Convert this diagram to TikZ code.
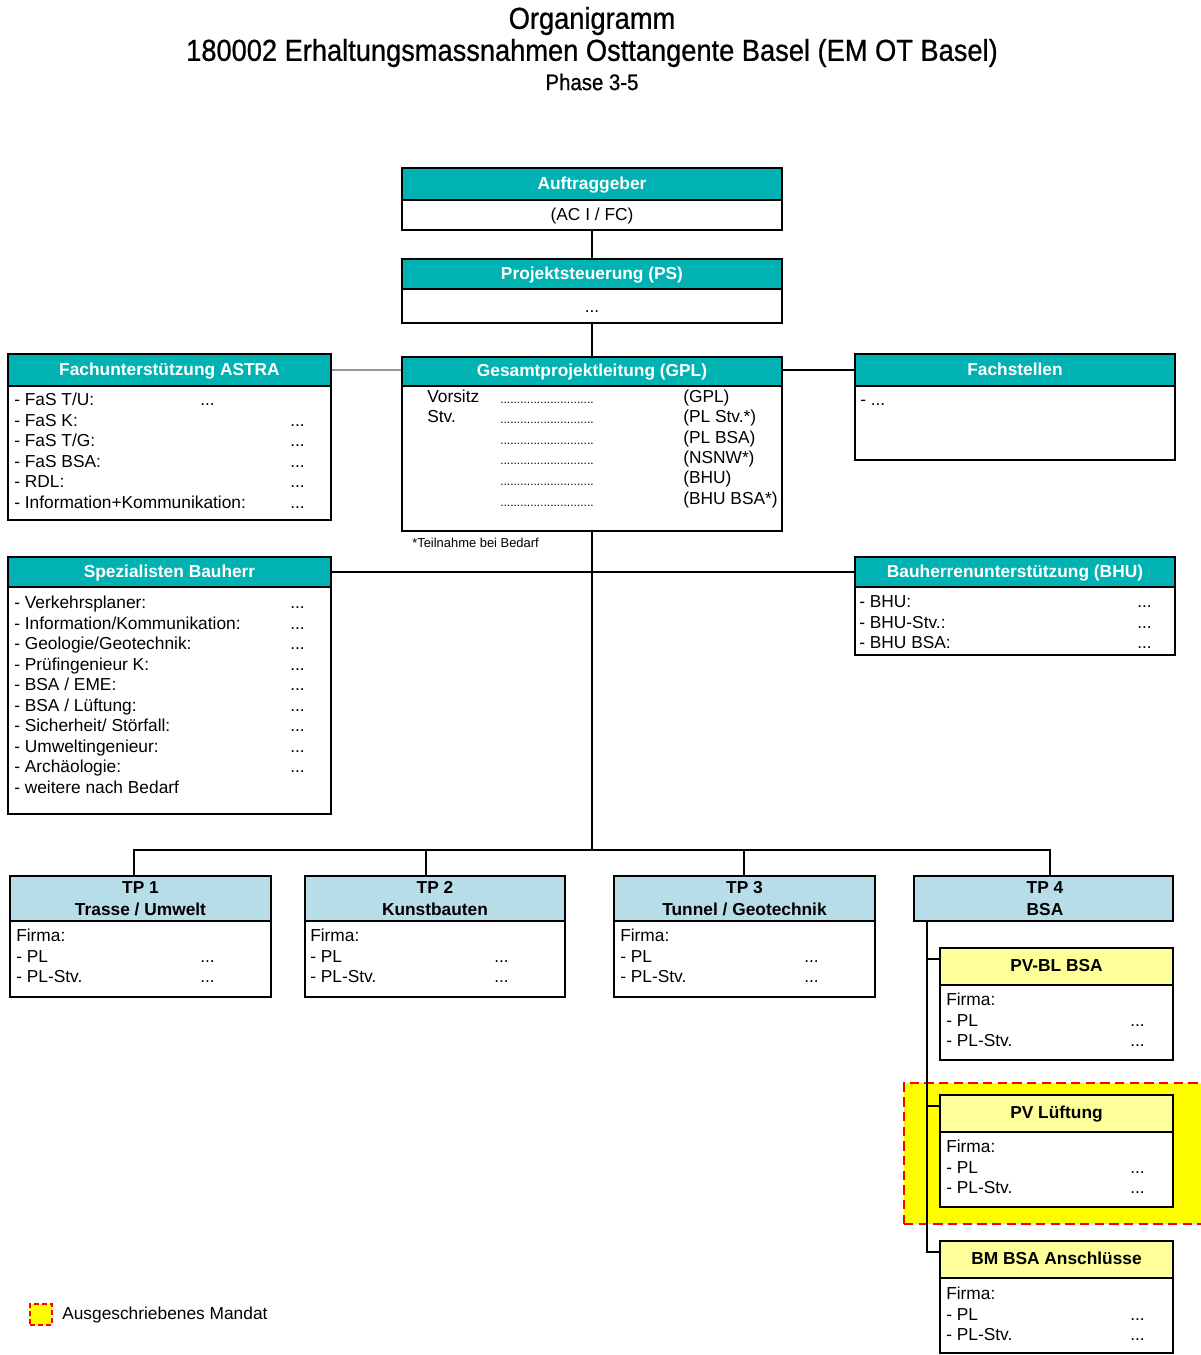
\documentclass[tikz,border=0pt]{standalone}
\usepackage{fontspec}
\setmainfont{Liberation Sans}
\newfontfamily\titlefont{Liberation Sans}[FakeStretch=0.9,FakeBold=0.8]
\usetikzlibrary{fit,calc}
\definecolor{hdrteal}{RGB}{0,178,178}
\definecolor{tpblue}{RGB}{183,222,232}
\definecolor{subyellow}{RGB}{255,255,153}
\definecolor{hiyellow}{RGB}{255,255,0}
\definecolor{linegray}{RGB}{150,150,150}
\newcommand{\firmabody}[4]{%
  \node[txt] (#1f1) at (#2,#4) {Firma:};
  \node[txt] (#1f2) at (#2,{#4+20.5}) {- PL};
  \node[txt] (#1f3) at (#2,{#4+41}) {- PL-Stv.};
  \node[txt] (#1d2) at (#3,{#4+20.5}) {...};
  \node[txt] (#1d3) at (#3,{#4+41}) {...};
}
\begin{document}
\begin{tikzpicture}[x=0.75pt,y=-0.75pt,
  box/.style={draw=black, line width=1.3pt, inner sep=0pt},
  hteal/.style={box, fill=hdrteal},
  hblue/.style={box, fill=tpblue},
  hyel/.style={box, fill=subyellow},
  bodybox/.style={box, fill=white},
  lbl/.style={inner sep=0pt, anchor=mid, yshift=-1.3pt, font=\fontsize{13}{15}\selectfont\bfseries},
  wlbl/.style={lbl, text=white},
  txt/.style={inner sep=0pt, anchor=mid west, font=\fontsize{13}{15}\selectfont},
  dotsrow/.style={inner sep=0pt, anchor=base west, font=\fontsize{9}{10}\selectfont},
  conn/.style={line width=1.4pt},
  hilite/.style={inner sep=0pt, fill=hiyellow, draw=red, line width=1.5pt, dash pattern=on 7pt off 4pt},
  titletxt/.style={inner sep=0pt}]
\useasboundingbox (0,0) rectangle (1201,1355);

% title
\node[titletxt, font=\titlefont\fontsize{22.7}{27}\selectfont] (t1) at (592,21) {Organigramm};
\node[titletxt, font=\titlefont\fontsize{22.7}{27}\selectfont] (t2) at (592,53) {180002 Erhaltungsmassnahmen Osttangente Basel (EM OT Basel)};
\node[titletxt, font=\titlefont\fontsize{17}{20}\selectfont] (t3) at (592,82) {Phase 3-5};

% highlight (Ausgeschriebenes Mandat)
\node[hilite, fit={(904,1083)(1215,1224)}] (mandat) {};

% Auftraggeber
\node[hteal, fit={(402,168)(782,200)}] (auftrH) {};
\node[wlbl] (auftrHt) at (auftrH.center) {Auftraggeber};
\node[bodybox, fit={(402,200)(782,230)}] (auftrB) {};
\node[lbl, font=\fontsize{13}{15}\selectfont] (auftrBt) at (auftrB.center) {(AC I / FC)};

% Projektsteuerung
\node[hteal, fit={(402,259)(782,289)}] (psH) {};
\node[wlbl] (psHt) at (psH.center) {Projektsteuerung (PS)};
\node[bodybox, fit={(402,289)(782,323)}] (psB) {};
\node[inner sep=0pt, anchor=base, font=\fontsize{13}{15}\selectfont] (psdots) at (592,312) {...};

% GPL
\node[hteal, fit={(402,357)(782,386)}] (gplH) {};
\node[wlbl] (gplHt) at (gplH.center) {Gesamtprojektleitung (GPL)};
\node[bodybox, fit={(402,386)(782,531)}] (gplB) {};
\node[txt] (gv) at (427,399) {Vorsitz};
\node[txt] (gs) at (427,419) {Stv.};
\foreach \i/\y in {1/403,2/423,3/444,4/464,5/485,6/506}
  \node[dotsrow] (gd\i) at (500,\y) {............................};
\foreach \t/\y [count=\i] in {(GPL)/399,(PL Stv.*)/419,(PL BSA)/440,(NSNW*)/460,(BHU)/480,(BHU BSA*)/501}
  \node[txt] (gr\i) at (683,\y) {\t};
\node[inner sep=0pt, anchor=west, font=\fontsize{9.7}{11}\selectfont] (gnote) at (412,543) {*Teilnahme bei Bedarf};

% Fachunterstuetzung ASTRA
\node[hteal, fit={(8,354)(331,386)}] (fachuH) {};
\node[wlbl] (fachuHt) at (fachuH.center) {Fachunterstützung ASTRA};
\node[bodybox, fit={(8,386)(331,520)}] (fachuB) {};
\foreach \t [count=\i] in {- FaS T/U:,- FaS K:,- FaS T/G:,- FaS BSA:,- RDL:,- Information+Kommunikation:}
  \node[txt] (fa\i) at (14,{402+(\i-1)*20.5}) {\t};
\node[txt] (fad1) at (200,402) {...};
\foreach \i in {2,...,6}
  \node[txt] (fad\i) at (290,{402+(\i-1)*20.5}) {...};

% Fachstellen
\node[hteal, fit={(855,354)(1175,386)}] (fachsH) {};
\node[wlbl] (fachsHt) at (fachsH.center) {Fachstellen};
\node[bodybox, fit={(855,386)(1175,460)}] (fachsB) {};
\node[txt] (fs1) at (860,402) {- ...};

% Spezialisten Bauherr
\node[hteal, fit={(8,557)(331,587)}] (spezH) {};
\node[wlbl] (spezHt) at (spezH.center) {Spezialisten Bauherr};
\node[bodybox, fit={(8,587)(331,814)}] (spezB) {};
\foreach \t [count=\i] in {- Verkehrsplaner:,- Information/Kommunikation:,- Geologie/Geotechnik:,- Prüfingenieur K:,- BSA / EME:,- BSA / Lüftung:,- Sicherheit/ Störfall:,- Umweltingenieur:,- Archäologie:,- weitere nach Bedarf}
  \node[txt] (sp\i) at (14,{605+(\i-1)*20.5}) {\t};
\foreach \i in {1,...,9}
  \node[txt] (spd\i) at (290,{605+(\i-1)*20.5}) {...};

% BHU
\node[hteal, fit={(855,557)(1175,587)}] (bhuH) {};
\node[wlbl] (bhuHt) at (bhuH.center) {Bauherrenunterstützung (BHU)};
\node[bodybox, fit={(855,587)(1175,655)}] (bhuB) {};
\foreach \t [count=\i] in {- BHU:,- BHU-Stv.:,- BHU BSA:}
  \node[txt] (bh\i) at (859,{604+(\i-1)*20.5}) {\t};
\foreach \i in {1,2,3}
  \node[txt] (bhd\i) at (1137,{604+(\i-1)*20.5}) {...};

% TP boxes
\node[hblue, fit={(10,876)(271,921)}] (tp1H) {};
\node[lbl] (tp1a) at (140.5,888) {TP 1};
\node[lbl] (tp1b) at (140.5,910) {Trasse / Umwelt};
\node[bodybox, fit={(10,921)(271,997)}] (tp1B) {};
\firmabody{tpa}{16}{200}{938}
\node[hblue, fit={(305,876)(565,921)}] (tp2H) {};
\node[lbl] (tp2a) at (435,888) {TP 2};
\node[lbl] (tp2b) at (435,910) {Kunstbauten};
\node[bodybox, fit={(305,921)(565,997)}] (tp2B) {};
\firmabody{tpb}{310}{494}{938}
\node[hblue, fit={(614,876)(875,921)}] (tp3H) {};
\node[lbl] (tp3a) at (744.5,888) {TP 3};
\node[lbl] (tp3b) at (744.5,910) {Tunnel / Geotechnik};
\node[bodybox, fit={(614,921)(875,997)}] (tp3B) {};
\firmabody{tpc}{620}{804}{938}
\node[hblue, fit={(914,876)(1173,921)}] (tp4H) {};
\node[lbl] (tp4a) at (1045,888) {TP 4};
\node[lbl] (tp4b) at (1045,910) {BSA};

% TP4 sub boxes
\node[hyel, fit={(940,948)(1173,985)}] (pvblH) {};
\node[lbl] (pvblHt) at (pvblH.center) {PV-BL BSA};
\node[bodybox, fit={(940,985)(1173,1060)}] (pvblB) {};
\firmabody{pva}{946}{1130}{1002}
\node[hyel, fit={(940,1095)(1173,1132)}] (pvlH) {};
\node[lbl] (pvlHt) at (pvlH.center) {PV Lüftung};
\node[bodybox, fit={(940,1132)(1173,1207)}] (pvlB) {};
\firmabody{pvb}{946}{1130}{1149}
\node[hyel, fit={(940,1241)(1173,1278)}] (bmH) {};
\node[lbl] (bmHt) at (bmH.center) {BM BSA Anschlüsse};
\node[bodybox, fit={(940,1278)(1173,1353)}] (bmB) {};
\firmabody{pvc}{946}{1130}{1296}

% legend
\node[hilite, line width=1.2pt, dash pattern=on 4pt off 2pt, fit={(30,1304)(52,1325)}] (legbox) {};
\node[txt] (legtxt) at (62,1316) {Ausgeschriebenes Mandat};

% connectors
\draw[conn] (auftrB.south) -- (psH.north);
\draw[conn] (psB.south) -- (gplH.north);
\coordinate (bus) at (592,850);
\draw[conn] (gplB.south) -- (bus);
\coordinate (drop1) at (134,850);
\coordinate (drop2) at (426,850);
\coordinate (drop3) at (744,850);
\coordinate (drop4) at (1050,850);
\draw[conn] (drop1 |- tp1H.north) -- (drop1) -- (drop4) -- (drop4 |- tp4H.north);
\draw[conn] (drop2) -- (drop2 |- tp2H.north);
\draw[conn] (drop3) -- (drop3 |- tp3H.north);
\draw[line width=1.6pt, linegray] (fachuH.east) -- (fachuH.east -| gplH.west);
\draw[conn] (gplH.east |- fachsH.west) -- (fachsH.west);
\draw[conn] (spezH.east) -- (bhuH.west);
\coordinate (v4) at ($(tp4H.south west)+(14,0)$);
\coordinate (b1) at ($(pvblH.north west)+(0,12)$);
\coordinate (b2) at ($(pvlH.north west)+(0,12)$);
\coordinate (b3) at ($(bmH.north west)+(0,12)$);
\draw[conn] (v4) |- (b3);
\draw[conn] (b1 -| v4) -- (b1);
\draw[conn] (b2 -| v4) -- (b2);
\end{tikzpicture}
\end{document}
